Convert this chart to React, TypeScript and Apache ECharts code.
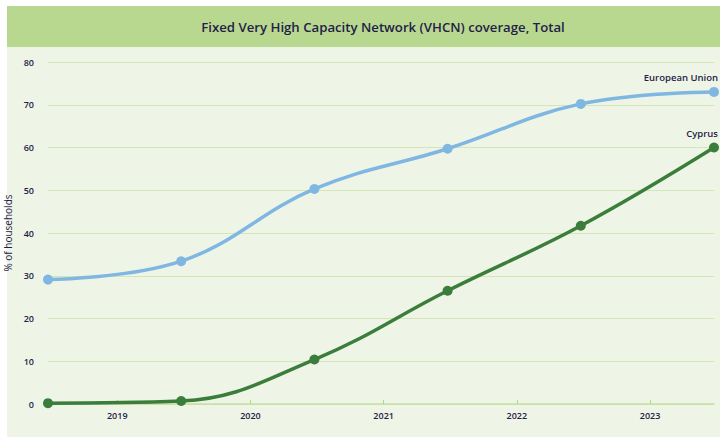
import React, { useEffect, useRef } from "react";
import * as echarts from "echarts";

const years = [2018, 2019, 2020, 2021, 2022, 2023];
const euValues = [29.1, 33.4, 50.3, 59.7, 70.2, 73.0];
const cyValues = [0.2, 0.7, 10.4, 26.5, 41.7, 60.0];
const xTickYears = [2019, 2020, 2021, 2022, 2023];
const seriesNames = ["European Union", "Cyprus"];
const titleText = "Fixed Very High Capacity Network (VHCN) coverage, Total";
const yAxisName = "% of households";

const OFFSET = 0.48;
const TEXT = "#1f2149";
const FONT = "'Open Sans', Lato, sans-serif";

function buildData(values: number[], name: string) {
  return values.map((v, i) => {
    const item: any = { value: [years[i] + OFFSET, v] };
    if (i === values.length - 1) {
      item.label = {
        show: true,
        formatter: name,
        position: "top",
        align: "right",
        offset: [4, 1],
        color: TEXT,
        fontFamily: FONT,
        fontSize: 9.5,
        fontWeight: 600,
      };
    }
    return item;
  });
}

export default function App() {
  const ref = useRef<HTMLDivElement>(null);
  useEffect(() => {
    if (!ref.current) return;
    const chart = echarts.init(ref.current, undefined, { renderer: "svg" });
    chart.setOption({
      animation: false,
      graphic: [
        {
          type: "rect",
          z: -10,
          silent: true,
          shape: { x: 7, y: 6, width: 760, height: 460, r: [0, 16, 0, 16] },
          style: { fill: "#eff5e6" },
        },
        {
          type: "rect",
          z: -9,
          silent: true,
          shape: { x: 7, y: 6, width: 760, height: 41, r: [0, 16, 0, 0] },
          style: { fill: "#b9d88f" },
        },
        {
          type: "text",
          z: 10,
          x: 383,
          y: 27,
          style: {
            text: titleText,
            align: "center",
            verticalAlign: "middle",
            fill: TEXT,
            fontFamily: FONT,
            fontSize: 13.2,
            fontWeight: 600,
          },
        },
      ],
      grid: { left: 48, right: 6, top: 62, bottom: 33, outerBoundsMode: "none", containLabel: false },
      xAxis: {
        type: "value",
        min: years[0] + OFFSET,
        max: years[years.length - 1] + OFFSET,
        splitLine: { show: false },
        axisLine: { show: true, lineStyle: { color: "#c6e0a0", width: 1.5 } },
        axisTick: {
          show: true,
          length: 4,
          inside: true,
          customValues: xTickYears,
          lineStyle: { color: "#b5d784", width: 1 },
        },
        axisLabel: {
          customValues: xTickYears,
          formatter: (v: number) => String(Math.round(v)),
          color: TEXT,
          fontFamily: FONT,
          fontSize: 9,
          fontWeight: 600,
          margin: 7,
        },
      },
      yAxis: {
        type: "value",
        min: 0,
        max: 80,
        interval: 10,
        name: yAxisName,
        nameLocation: "middle",
        nameGap: 31,
        nameTextStyle: { color: TEXT, fontFamily: FONT, fontSize: 10 },
        axisLine: { show: false },
        axisTick: { show: false },
        splitLine: { lineStyle: { color: "#d3e7b6", width: 1 } },
        axisLabel: {
          color: TEXT,
          fontFamily: FONT,
          fontSize: 9,
          fontWeight: 600,
          margin: 14,
        },
      },
      series: [
        {
          name: seriesNames[0],
          type: "line",
          smooth: 0.4,
          data: buildData(euValues, seriesNames[0]),
          symbol: "circle",
          symbolSize: 10,
          lineStyle: { color: "#7fb7e2", width: 3.5 },
          itemStyle: { color: "#7fb7e2" },
          z: 3,
        },
        {
          name: seriesNames[1],
          type: "line",
          smooth: 0.4,
          data: buildData(cyValues, seriesNames[1]),
          symbol: "circle",
          symbolSize: 10,
          lineStyle: { color: "#3b7d3b", width: 3.5 },
          itemStyle: { color: "#3b7d3b" },
          z: 4,
        },
      ],
    });
    return () => chart.dispose();
  }, []);
  return (
    <div
      ref={ref}
      style={{ position: "absolute", left: 0, top: 0, width: 720, height: 437 }}
    />
  );
}
